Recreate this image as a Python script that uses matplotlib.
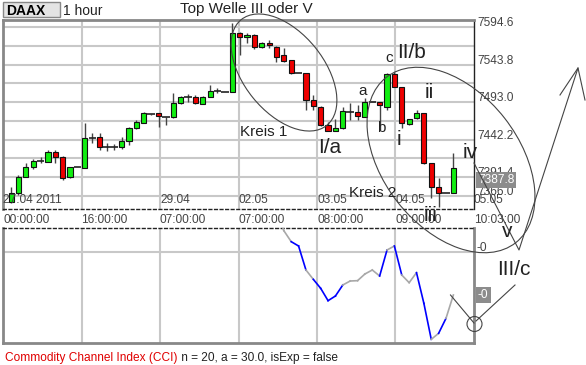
import numpy as np
import matplotlib.pyplot as plt
from matplotlib.patches import Ellipse, Circle, Rectangle
from matplotlib.lines import Line2D
from matplotlib.transforms import Affine2D, blended_transform_factory, ScaledTranslation

plt.rcParams["font.family"] = ["Liberation Sans", "DejaVu Sans"]

W, H = 586, 365

# Kerzen (DAX, 1 Stunde)
eroeffnung = [7357.9, 7370.5, 7392.1, 7404.8, 7413.3, 7412.4, 7425.9, 7418.3, 7391.3, 7404.8,
              7403.5, 7444.0, 7445.4, 7432.7, 7432.7, 7431.9, 7440.8, 7457.6, 7465.1, 7476.9,
              7477.9, 7473.3, 7472.5, 7491.4, 7499.5, 7500.3, 7490.4, 7500.3, 7508.4, 7507.1,
              7507.1, 7586.1, 7580.7, 7583.8, 7568.0, 7573.4, 7568.0, 7556.7, 7550.0, 7532.0,
              7532.0, 7495.9, 7486.8, 7462.0, 7454.3, 7457.6, 7480.0, 7480.0, 7473.3, 7493.1,
              7493.6, 7486.8, 7531.0, 7513.8, 7463.4, 7471.1, 7478.7, 7411.0, 7378.6, 7369.6,
              7369.6]
hoch = [7378.2, 7394.4, 7410.6, 7415.6, 7418.7, 7428.2, 7428.2, 7420.1, 7405.2, 7404.8,
        7464.3, 7451.2, 7451.6, 7437.7, 7436.5, 7445.8, 7459.3, 7468.8, 7480.0, 7477.6,
        7478.9, 7473.5, 7504.9, 7501.3, 7504.0, 7502.6, 7501.3, 7516.1, 7512.1, 7507.1,
        7600.4, 7587.8, 7586.1, 7585.1, 7574.3, 7577.0, 7568.9, 7565.8, 7550.6, 7532.0,
        7532.4, 7502.6, 7487.7, 7466.5, 7469.7, 7486.0, 7491.8, 7489.1, 7498.2, 7493.1,
        7493.8, 7532.4, 7534.1, 7514.1, 7470.2, 7482.3, 7478.9, 7411.3, 7389.9, 7369.6,
        7423.8]
tief = [7356.5, 7367.3, 7391.7, 7402.5, 7410.6, 7412.0, 7410.6, 7387.6, 7390.3, 7404.8,
        7403.2, 7437.7, 7428.2, 7426.9, 7428.0, 7429.6, 7435.0, 7456.6, 7464.7, 7476.2,
        7459.7, 7462.0, 7471.5, 7490.4, 7493.1, 7490.4, 7489.8, 7499.9, 7505.3, 7507.1,
        7506.7, 7556.7, 7572.6, 7564.4, 7566.2, 7565.8, 7547.7, 7547.3, 7531.0, 7532.0,
        7482.3, 7482.3, 7460.7, 7453.9, 7453.9, 7456.6, 7468.8, 7468.8, 7472.9, 7493.1,
        7455.3, 7482.3, 7513.4, 7457.6, 7462.7, 7470.2, 7409.3, 7363.3, 7351.5, 7369.6,
        7369.4]
schluss = [7370.1, 7392.1, 7405.6, 7413.3, 7413.3, 7425.9, 7418.3, 7389.9, 7404.8, 7404.8,
           7444.0, 7444.0, 7432.7, 7432.7, 7432.7, 7440.8, 7457.6, 7466.1, 7477.9, 7476.9,
           7474.2, 7473.3, 7491.4, 7499.5, 7499.5, 7491.4, 7500.3, 7508.4, 7508.4, 7507.1,
           7586.1, 7580.7, 7583.8, 7568.0, 7573.4, 7570.3, 7554.4, 7548.6, 7532.0, 7532.0,
           7495.9, 7487.7, 7462.0, 7454.3, 7457.6, 7481.4, 7480.0, 7474.2, 7493.6, 7493.1,
           7489.1, 7531.0, 7513.8, 7464.3, 7469.7, 7477.9, 7410.2, 7377.8, 7369.6, 7369.6,
           7403.5]

# CCI ab Kerze 36
cci_start = 36
cci = [127, 65, 32, 19, -53, -81, -108, -145, -131, -98, -86, -85, -65, -53, -71,
       7, 19, -68, -91, -61, -153, -261, -243, -198, -128]
cci_farben = ["#a8a8a8", "#a8a8a8", "#0000ff", "#0000ff", "#a8a8a8", "#0000ff", "#0000ff",
              "#0000ff", "#0000ff", "#a8a8a8", "#a8a8a8", "#a8a8a8", "#a8a8a8", "#a8a8a8",
              "#0000ff", "#a8a8a8", "#0000ff", "#a8a8a8", "#a8a8a8", "#0000ff", "#0000ff",
              "#a8a8a8", "#0000ff", "#a8a8a8"]

preis_labels = [7594.6, 7543.8, 7493.0, 7442.2, 7391.4, 7366.0]
preis_oben = 7594.6
preis_schritt = 25.4
letzter_kurs = 7387.8
datum_labels = ["27.04 2011", "", "29.04", "02.05", "03.05", "04.05", "05.05"]
zeit_labels = ["00:00:00", "16:00:00", "07:00:00", "07:00:00", "08:00:00", "09:00:00", "10:03:00"]

fig = plt.figure(figsize=(W / 100, H / 100), dpi=100)
# Pixelkoordinaten (oben links = 0,0) fuer die Handzeichnungen
pix = Affine2D().scale(1 / W, -1 / H).translate(0, 1) + fig.transFigure

ax = fig.add_axes([3 / W, 1 - 209 / H, 471 / W, 189 / H])
ax2 = fig.add_axes([3 / W, 1 - 343 / H, 471 / W, 115 / H])

x0, x1 = -1.1, 62.8
for a in (ax, ax2):
    a.set_xlim(x0, x1)
    a.set_xticks([])
    a.set_yticks([])
    for xg in np.linspace(x0, x1, 7)[1:-1]:
        a.axvline(xg, color="#c8c8c8", lw=1.5, zorder=0)
ax.set_ylim(7348.4, 7604.1)
ax2.set_ylim(-272, 73)

for lvl in preis_oben - preis_schritt * np.arange(10):
    ax.axhline(lvl, color="#c8c8c8", lw=1.5, zorder=0)
ax2.axhline(0, color="#c8c8c8", lw=1.5, zorder=0)

# Rahmen
for a in (ax, ax2):
    for s in a.spines.values():
        s.set_color("#888888")
        s.set_linewidth(2)
ax.spines["right"].set_color("#222222")
ax.spines["right"].set_linewidth(1)
ax.spines["bottom"].set_color("#222222")
ax.spines["bottom"].set_linewidth(1)
ax.spines["bottom"].set_linestyle((0, (2, 2)))
ax2.spines["top"].set_color("#222222")
ax2.spines["top"].set_linewidth(1)
ax2.spines["top"].set_linestyle((0, (2, 2)))

# Kerzen
o = np.array(eroeffnung)
c = np.array(schluss)
idx = np.arange(len(c))
ax.vlines(idx, tief, hoch, color="#444444", lw=1, zorder=2)
doji = np.abs(c - o) < 0.05
auf = (c > o) & ~doji
ab = (c < o) & ~doji
ax.bar(idx[auf], (c - o)[auf], bottom=o[auf], width=0.7, color="#11ee11",
       edgecolor="#111111", lw=0.8, zorder=3)
ax.bar(idx[ab], (c - o)[ab], bottom=o[ab], width=0.7, color="#ee0000",
       edgecolor="#111111", lw=0.8, zorder=3)
ax.hlines(c[doji], idx[doji] - 0.5, idx[doji] + 0.5, color="#222222", lw=1.2, zorder=3)

# Preisachse rechts
lbl_tr = blended_transform_factory(ax.transAxes, ax.transData) + \
    ScaledTranslation(0.03, 0.04, fig.dpi_scale_trans)
for p in preis_labels:
    ax.text(1.0, p, f"{p:.1f}", transform=lbl_tr, ha="left", va="center",
            fontsize=8.6, color="#444444", clip_on=False)
ax.text(1.0, letzter_kurs, f"{letzter_kurs:.1f}",
        transform=blended_transform_factory(ax.transAxes, ax.transData) +
        ScaledTranslation(0.04, 0, fig.dpi_scale_trans),
        ha="left", va="center", fontsize=8.6, color="white", zorder=10, clip_on=False,
        bbox=dict(facecolor="#8c8c8c", edgecolor="none", pad=1.5))

# Datum / Zeit
gx = np.linspace(x0, x1, 7)
tr_d = blended_transform_factory(ax.transData, ax.transAxes)
for xg, d, z in zip(gx, datum_labels, zeit_labels):
    ax.text(xg, 0.048, d, transform=tr_d, ha="left", va="center", fontsize=8.6,
            color="#444444", clip_on=False, zorder=4)
    ax.text(xg, -0.058, z, transform=tr_d, ha="left", va="center", fontsize=8.6,
            color="#444444", clip_on=False)

# CCI
cx = cci_start + np.arange(len(cci))
for k in range(len(cci) - 1):
    ax2.plot(cx[k:k + 2], cci[k:k + 2], color=cci_farben[k], lw=1.2, zorder=3)
tr2 = blended_transform_factory(ax2.transAxes, ax2.transData)
ax2.text(1.0, 0, "-0", transform=tr2 + ScaledTranslation(0.03, 0.04, fig.dpi_scale_trans),
         ha="left", va="center", fontsize=8.6, color="#444444", clip_on=False)
ax2.text(1.0, cci[-1], "-0", transform=tr2 + ScaledTranslation(0.04, 0, fig.dpi_scale_trans),
         ha="left", va="center", fontsize=8.6, color="white", clip_on=False,
         bbox=dict(facecolor="#8c8c8c", edgecolor="none", pad=1.5))

t1 = fig.text(5, 361, "Commodity Channel Index (CCI)", transform=pix, color="#e00000",
              fontsize=8.6, va="baseline", ha="left")
plt.annotate(" n = 20, a = 30.0, isExp = false", xy=(1, 0), xycoords=t1,
             va="bottom", ha="left", fontsize=8.6, color="#222222")

# Kopf
fig.add_artist(Rectangle((3, 2), 57, 15, transform=pix, facecolor="#e4e4e4",
                         edgecolor="#888888", lw=1))
fig.text(6, 15, "DAAX", transform=pix, fontsize=10, fontweight="bold", va="baseline")
fig.text(63, 15, "1 hour", transform=pix, fontsize=10, va="baseline", color="#222222")

# Elliott-Beschriftungen
beschr = [
    (180, 12.7, "Top Welle III oder V", 11),
    (385, 61.7, "c", 11),
    (397, 58.3, "II/b", 15),
    (358, 95, "a", 11),
    (425, 98.3, "ii", 15),
    (377, 131.7, "b", 11),
    (397, 145, "i", 15),
    (240, 135.7, "Kreis 1", 11),
    (318, 153.3, "I/a", 15),
    (463, 158.3, "iv", 15),
    (349, 197.3, "Kreis 2", 11),
    (424, 221, "iii", 15),
    (502, 237, "v", 15),
    (497, 275, "III/c", 15),
]
for bx, by, s, fs in beschr:
    fig.text(bx, by, s, transform=pix, fontsize=fs, va="baseline", ha="left",
             color="#222222", zorder=12)

# Kreise und Pfeile
fig.add_artist(Ellipse((284, 72.5), 136, 80, angle=51, transform=pix, fill=False,
                       ec="#444444", lw=0.8))
fig.add_artist(Ellipse((451, 160), 210, 136, angle=52, transform=pix, fill=False,
                       ec="#444444", lw=0.8))
fig.add_artist(Circle((474.5, 324), 7.5, transform=pix, fill=False, ec="#444444", lw=0.8))
for xs, ys in [([474, 519, 578], [163, 250, 68]),
               ([560, 578, 585], [95, 68, 100]),
               ([450.5, 474], [295, 323]),
               ([476, 515], [321, 285])]:
    fig.add_artist(Line2D(xs, ys, transform=pix, color="#444444", lw=0.8))

plt.savefig("out.png", dpi=100)
